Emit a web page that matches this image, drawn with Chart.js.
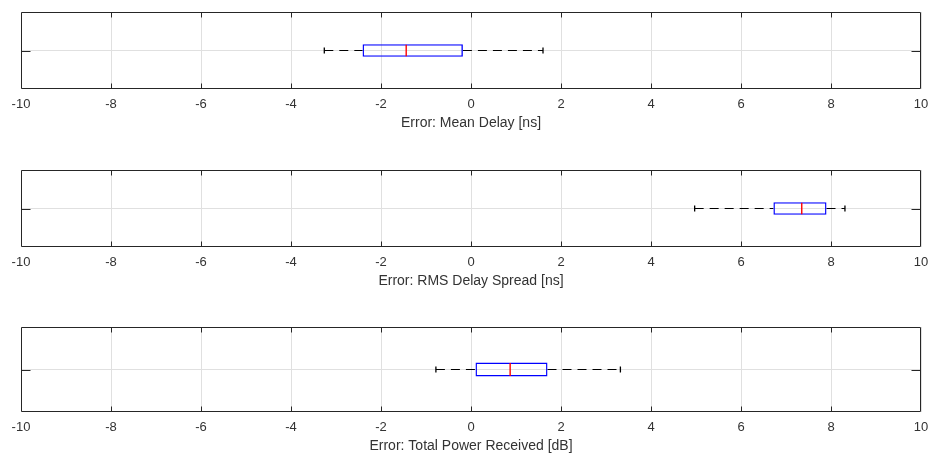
<!DOCTYPE html>
<html>
<head>
<meta charset="utf-8">
<script src="https://cdn.jsdelivr.net/npm/chart.js@4/dist/chart.umd.min.js"></script>
<style>
  html, body { margin: 0; padding: 0; background: #fff; overflow: hidden; }
  #wrap { position: relative; width: 929px; height: 455px; }
  #wrap canvas { position: absolute; left: 0; }
</style>
</head>
<body>
<div id="wrap">
  <canvas id="meanDelay"></canvas>
  <canvas id="rmsSpread"></canvas>
  <canvas id="powerRx"></canvas>
</div>
<script>
// ==================== DATA ====================
const axisTitles = ['Error: Mean Delay [ns]', 'Error: RMS Delay Spread [ns]', 'Error: Total Power Received [dB]'];
const lowerWhisker = [-3.26, 4.97, -0.78];
const quartile1    = [-2.41, 6.72,  0.10];
const medians      = [-1.44, 7.35,  0.87];
const quartile3    = [-0.18, 7.90,  1.70];
const upperWhisker = [ 1.60, 8.31,  3.32];
const xMin = -10, xMax = 10, xStep = 2;

// ==================== LAYOUT ====================
const canvasIds = ['meanDelay', 'rmsSpread', 'powerRx'];
const canvasTop = [0, 140, 300];
const plotTop = [12, 170, 327];
const plotBottom = [89, 247, 412];
const xAxisHeight = 47;

const FONT = "'Liberation Sans', Arial, Helvetica, sans-serif";
const TEXT = '#333333';
const FRAME = '#262626';
const GRID = '#e0e0e0';
const BOX_FRAC = 0.165;

// box frame + inward ticks, drawn on top of the data
const axesFrame = {
  id: 'axesFrame',
  afterDatasetsDraw(chart) {
    const { ctx, chartArea: a, scales } = chart;
    const l = Math.round(a.left) + 0.5, r = Math.round(a.right) - 0.5;
    const t = Math.round(a.top) + 0.5, b = Math.round(a.bottom) - 0.5;
    ctx.save();
    ctx.strokeStyle = FRAME;
    ctx.lineWidth = 1;
    ctx.beginPath();
    ctx.rect(l, t, r - l, b - t);
    scales.x.ticks.forEach(tk => {
      const px = Math.round(scales.x.getPixelForValue(tk.value)) + 0.5;
      if (px <= l + 1 || px >= r - 1) return;
      ctx.moveTo(px, t); ctx.lineTo(px, t + 5);
      ctx.moveTo(px, b); ctx.lineTo(px, b - 5);
    });
    const py = Math.round(scales.y.getPixelForValue(0)) + 0.5;
    ctx.moveTo(l, py); ctx.lineTo(l + 9, py);
    ctx.moveTo(r, py); ctx.lineTo(r - 9, py);
    ctx.stroke();
    ctx.restore();
  }
};

function makeBoxChart(i) {
  const cv = document.getElementById(canvasIds[i]);
  cv.width = 929;
  cv.height = plotBottom[i] - canvasTop[i] + xAxisHeight;
  cv.style.top = canvasTop[i] + 'px';

  const row = 'r';
  return new Chart(cv, {
    type: 'bar',
    data: {
      labels: [row],
      datasets: [
        {
          // median
          type: 'line',
          order: 0,
          data: [{ x: medians[i], y: row }],
          showLine: false,
          pointStyle: 'line',
          pointRotation: 90,
          pointRadius: c => {
            const a = c.chart.chartArea;
            return a ? (a.bottom - a.top) * BOX_FRAC / 2 - 0.5 : 6;
          },
          pointBorderColor: '#ff0000',
          pointBorderWidth: 1.4
        },
        {
          // interquartile box
          type: 'bar',
          order: 1,
          data: [[quartile1[i], quartile3[i]]],
          backgroundColor: 'rgba(0,0,0,0)',
          borderColor: '#0000ff',
          borderWidth: 1.4,
          borderSkipped: false,
          categoryPercentage: 1,
          barPercentage: BOX_FRAC
        },
        {
          // whisker caps
          type: 'line',
          order: 2,
          data: [{ x: lowerWhisker[i], y: row }, { x: upperWhisker[i], y: row }],
          showLine: false,
          pointStyle: 'line',
          pointRotation: 90,
          pointRadius: 3,
          pointBorderColor: '#000000',
          pointBorderWidth: 1.3
        },
        {
          type: 'line',
          order: 3,
          data: [{ x: lowerWhisker[i], y: row }, { x: quartile1[i], y: row }],
          borderColor: '#000000',
          borderWidth: 1.1,
          borderDash: [9, 6],
          pointRadius: 0
        },
        {
          type: 'line',
          order: 3,
          data: [{ x: quartile3[i], y: row }, { x: upperWhisker[i], y: row }],
          borderColor: '#000000',
          borderWidth: 1.1,
          borderDash: [9, 6],
          pointRadius: 0
        }
      ]
    },
    options: {
      indexAxis: 'y',
      responsive: false,
      animation: false,
      events: [],
      layout: { padding: { left: 21, right: 8, top: plotTop[i] - canvasTop[i], bottom: 0 } },
      plugins: { legend: { display: false }, tooltip: { enabled: false } },
      scales: {
        x: {
          type: 'linear',
          min: xMin,
          max: xMax,
          // fixed axis band; end labels may overhang the side margins
          afterFit: s => {
            s.height = xAxisHeight;
            s.paddingLeft = 0;
            s.paddingRight = 0;
          },
          ticks: {
            stepSize: xStep,
            padding: 8,
            color: TEXT,
            font: { family: FONT, size: 13 }
          },
          grid: { color: GRID, lineWidth: 1, drawTicks: false },
          border: { display: false },
          title: {
            display: true,
            text: axisTitles[i],
            color: TEXT,
            font: { family: FONT, size: 14 },
            padding: { top: 4, bottom: 4 }
          }
        },
        y: {
          type: 'category',
          ticks: { display: false },
          grid: { color: GRID, lineWidth: 1, drawTicks: false, offset: false },
          border: { display: false }
        }
      }
    },
    plugins: [axesFrame]
  });
}

const charts = [0, 1, 2].map(makeBoxChart);
</script>
</body>
</html>
